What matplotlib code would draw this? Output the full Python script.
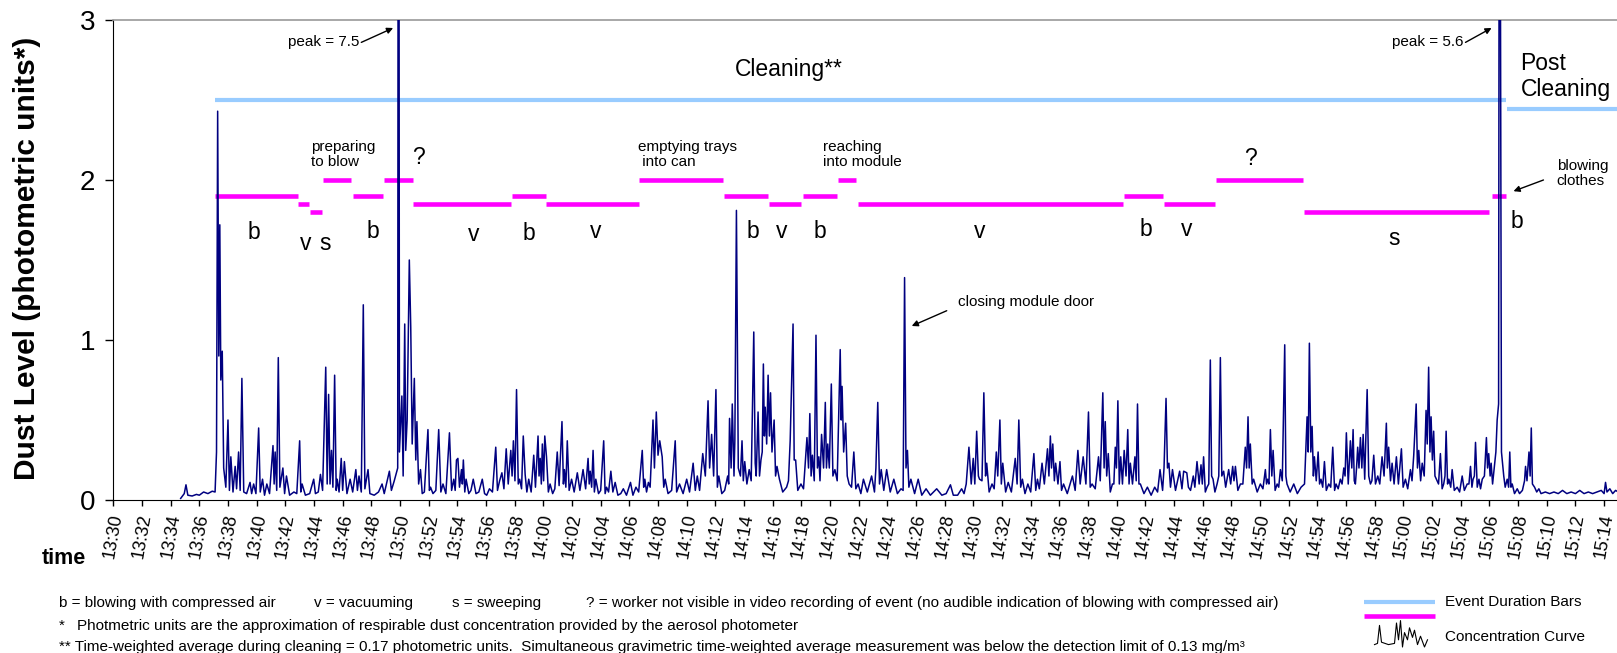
import matplotlib
matplotlib.use("Agg")
import matplotlib.pyplot as plt
import numpy as np

plt.rcParams['font.family'] = ['Liberation Sans', 'DejaVu Sans']

# dust concentration trace, (minutes after 13:30, photometric units)
curve_trace = [
    (4.70, 0.01), (4.95, 0.04), (5.07, 0.095), (5.2, 0.03), (5.5, 0.025), (5.8, 0.035),
    (6.0, 0.03), (6.3, 0.05), (6.6, 0.04), (6.9, 0.055), (7.1, 0.05), (7.2, 0.3),
    (7.28, 2.43), (7.36, 0.9), (7.43, 1.72), (7.5, 0.75), (7.6, 0.93), (7.7, 0.2),
    (7.85, 0.08), (8.0, 0.5), (8.1, 0.06), (8.2, 0.27), (8.35, 0.05), (8.5, 0.21),
    (8.6, 0.07), (8.74, 0.3), (8.85, 0.06), (8.97, 0.76), (9.1, 0.05), (9.3, 0.04),
    (9.54, 0.11), (9.65, 0.04), (9.79, 0.1), (9.95, 0.04), (10.14, 0.45), (10.25, 0.05),
    (10.41, 0.13), (10.55, 0.03), (10.71, 0.1), (10.9, 0.04), (11.14, 0.34), (11.22, 0.1),
    (11.29, 0.3), (11.4, 0.06), (11.51, 0.89), (11.62, 0.08), (11.83, 0.2), (11.95, 0.04),
    (12.08, 0.15), (12.3, 0.03), (12.6, 0.05), (12.8, 0.04), (13.0, 0.37), (13.08, 0.05),
    (13.17, 0.1), (13.4, 0.03), (13.7, 0.04), (13.98, 0.13), (14.1, 0.04), (14.3, 0.05),
    (14.45, 0.16), (14.6, 0.06), (14.82, 0.83), (14.92, 0.1), (15.02, 0.66), (15.12, 0.1),
    (15.22, 0.31), (15.32, 0.08), (15.44, 0.78), (15.55, 0.06), (15.62, 0.13), (15.75, 0.05),
    (15.9, 0.26), (16.0, 0.06), (16.12, 0.24), (16.3, 0.04), (16.52, 0.13), (16.7, 0.05),
    (16.92, 0.19), (17.03, 0.06), (17.14, 0.15), (17.3, 0.05), (17.44, 1.22), (17.55, 0.07),
    (17.77, 0.19), (17.9, 0.04), (18.2, 0.03), (18.5, 0.05), (18.75, 0.1), (18.9, 0.04),
    (19.26, 0.18), (19.4, 0.06), (19.6, 0.12), (19.84, 0.2), (19.9, 7.5),
    (19.96, 0.3), (20.13, 0.65), (20.22, 0.15), (20.33, 1.1), (20.4, 0.31), (20.5, 0.5),
    (20.65, 1.5), (20.75, 1.08), (20.85, 0.35), (21.0, 0.76), (21.1, 0.25), (21.18, 0.49),
    (21.3, 0.1), (21.43, 0.19), (21.55, 0.04), (21.7, 0.05), (21.95, 0.44), (22.05, 0.06),
    (22.13, 0.08), (22.3, 0.04), (22.5, 0.06), (22.7, 0.44), (22.85, 0.05), (23.0, 0.1),
    (23.2, 0.04), (23.45, 0.42), (23.6, 0.06), (23.75, 0.13), (23.85, 0.06), (23.94, 0.25),
    (24.04, 0.26), (24.15, 0.08), (24.29, 0.19), (24.35, 0.1), (24.42, 0.25), (24.52, 0.05),
    (24.61, 0.13), (24.8, 0.04), (24.95, 0.06), (25.11, 0.13), (25.3, 0.04), (25.5, 0.05),
    (25.74, 0.13), (25.9, 0.04), (26.05, 0.03), (26.24, 0.07), (26.45, 0.05), (26.68, 0.33),
    (26.8, 0.06), (26.95, 0.12), (27.11, 0.17), (27.25, 0.07), (27.41, 0.32), (27.55, 0.1),
    (27.73, 0.31), (27.82, 0.15), (27.91, 0.37), (28.02, 0.12), (28.13, 0.69), (28.25, 0.1),
    (28.35, 0.13), (28.48, 0.07), (28.6, 0.4), (28.73, 0.16), (28.85, 0.05), (28.98, 0.13),
    (29.15, 0.05), (29.33, 0.28), (29.45, 0.08), (29.63, 0.4), (29.7, 0.15), (29.78, 0.26),
    (29.86, 0.1), (29.93, 0.35), (30.02, 0.12), (30.1, 0.4), (30.22, 0.27), (30.35, 0.05),
    (30.47, 0.1), (30.65, 0.04), (30.8, 0.07), (30.97, 0.3), (31.1, 0.09), (31.3, 0.49),
    (31.4, 0.1), (31.47, 0.19), (31.57, 0.08), (31.67, 0.37), (31.8, 0.06), (31.97, 0.13),
    (32.15, 0.05), (32.37, 0.17), (32.55, 0.06), (32.77, 0.19), (32.95, 0.07), (33.12, 0.26),
    (33.2, 0.1), (33.27, 0.18), (33.37, 0.08), (33.47, 0.31), (33.56, 0.05), (33.66, 0.13),
    (33.85, 0.04), (34.0, 0.06), (34.21, 0.37), (34.31, 0.04), (34.41, 0.08), (34.55, 0.05),
    (34.71, 0.18), (34.85, 0.05), (35.01, 0.11), (35.2, 0.03), (35.4, 0.04), (35.58, 0.07),
    (35.8, 0.03), (36.08, 0.11), (36.25, 0.03), (36.46, 0.08), (36.65, 0.05), (36.9, 0.31),
    (37.0, 0.08), (37.08, 0.13), (37.2, 0.05), (37.33, 0.11), (37.45, 0.08), (37.65, 0.5),
    (37.75, 0.2), (37.88, 0.55), (38.0, 0.28), (38.12, 0.37), (38.29, 0.27), (38.4, 0.08),
    (38.5, 0.13), (38.7, 0.04), (38.95, 0.06), (39.2, 0.37), (39.3, 0.05), (39.5, 0.1),
    (39.75, 0.04), (40.0, 0.13), (40.2, 0.05), (40.45, 0.23), (40.6, 0.06), (40.74, 0.15),
    (40.9, 0.06), (41.12, 0.29), (41.3, 0.15), (41.49, 0.62), (41.6, 0.2), (41.74, 0.41),
    (41.88, 0.15), (42.04, 0.69), (42.14, 0.08), (42.24, 0.15), (42.45, 0.04), (42.65, 0.06),
    (42.86, 0.15), (42.93, 0.1), (42.99, 0.51), (43.1, 0.2), (43.18, 0.6), (43.3, 0.15),
    (43.36, 0.37), (43.47, 1.81), (43.6, 0.2), (43.75, 0.15), (43.86, 0.37), (43.95, 0.12),
    (44.05, 0.24), (44.2, 0.1), (44.36, 0.19), (44.5, 0.12), (44.68, 1.05), (44.78, 0.23),
    (44.85, 0.15), (44.98, 0.55), (45.08, 0.15), (45.18, 0.25), (45.27, 0.3), (45.35, 0.85),
    (45.42, 0.4), (45.48, 0.58), (45.58, 0.35), (45.68, 0.78), (45.77, 0.4), (45.85, 0.67),
    (45.95, 0.3), (46.1, 0.5), (46.2, 0.15), (46.3, 0.21), (46.47, 0.13), (46.7, 0.05),
    (46.97, 0.08), (47.1, 0.12), (47.22, 0.37), (47.42, 1.1), (47.5, 0.25), (47.6, 0.25),
    (47.75, 0.06), (47.97, 0.1), (48.15, 0.07), (48.39, 0.39), (48.5, 0.2), (48.59, 0.54),
    (48.68, 0.15), (48.77, 0.28), (48.9, 0.12), (49.02, 1.03), (49.12, 0.2), (49.22, 0.27),
    (49.3, 0.12), (49.41, 0.41), (49.55, 0.2), (49.67, 0.61), (49.75, 0.2), (49.84, 0.35),
    (49.95, 0.2), (50.09, 0.725), (50.2, 0.15), (50.34, 0.19), (50.5, 0.12), (50.71, 0.94),
    (50.78, 0.5), (50.84, 0.71), (50.95, 0.3), (51.09, 0.48), (51.2, 0.15), (51.33, 0.1),
    (51.5, 0.08), (51.66, 0.3), (51.8, 0.07), (51.96, 0.1), (52.15, 0.04), (52.33, 0.13),
    (52.6, 0.05), (52.9, 0.15), (53.1, 0.05), (53.2, 0.2), (53.33, 0.61), (53.45, 0.1),
    (53.57, 0.19), (53.75, 0.06), (53.95, 0.19), (54.2, 0.05), (54.45, 0.13), (54.7, 0.04),
    (54.95, 0.07), (55.1, 0.06), (55.2, 1.39), (55.3, 0.2), (55.4, 0.31), (55.5, 0.08),
    (55.64, 0.13), (55.9, 0.04), (56.15, 0.13), (56.4, 0.03), (56.7, 0.07), (57.0, 0.03),
    (57.44, 0.07), (57.8, 0.03), (58.1, 0.04), (58.4, 0.095), (58.6, 0.03), (58.9, 0.03),
    (59.18, 0.07), (59.35, 0.04), (59.5, 0.1), (59.69, 0.33), (59.85, 0.1), (59.99, 0.26),
    (60.1, 0.1), (60.23, 0.43), (60.35, 0.15), (60.43, 0.13), (60.6, 0.12), (60.73, 0.67),
    (60.85, 0.15), (60.93, 0.23), (61.1, 0.05), (61.3, 0.1), (61.45, 0.07), (61.6, 0.3),
    (61.7, 0.15), (61.85, 0.5), (61.95, 0.1), (62.05, 0.23), (62.25, 0.05), (62.43, 0.11),
    (62.65, 0.05), (62.92, 0.26), (63.05, 0.1), (63.17, 0.5), (63.3, 0.08), (63.42, 0.13),
    (63.6, 0.04), (63.8, 0.1), (64.0, 0.05), (64.22, 0.29), (64.35, 0.06), (64.47, 0.13),
    (64.6, 0.07), (64.79, 0.23), (64.95, 0.1), (65.17, 0.32), (65.27, 0.15), (65.37, 0.4),
    (65.45, 0.2), (65.54, 0.35), (65.65, 0.12), (65.74, 0.23), (65.9, 0.1), (66.04, 0.24),
    (66.15, 0.06), (66.29, 0.1), (66.55, 0.04), (66.91, 0.15), (67.1, 0.06), (67.29, 0.31),
    (67.45, 0.1), (67.66, 0.27), (67.85, 0.1), (68.03, 0.55), (68.15, 0.08), (68.28, 0.1),
    (68.5, 0.07), (68.73, 0.27), (68.85, 0.12), (69.03, 0.67), (69.12, 0.2), (69.2, 0.49),
    (69.3, 0.15), (69.41, 0.29), (69.55, 0.05), (69.7, 0.1), (69.8, 0.1), (69.9, 0.33),
    (69.98, 0.2), (70.08, 0.62), (70.18, 0.1), (70.28, 0.27), (70.4, 0.1), (70.52, 0.31),
    (70.65, 0.15), (70.77, 0.44), (70.86, 0.1), (70.95, 0.23), (71.1, 0.1), (71.27, 0.27),
    (71.36, 0.12), (71.45, 0.6), (71.55, 0.1), (71.65, 0.1), (71.9, 0.04), (72.14, 0.08),
    (72.4, 0.03), (72.65, 0.08), (72.85, 0.05), (73.02, 0.19), (73.2, 0.06), (73.3, 0.2),
    (73.44, 0.635), (73.54, 0.2), (73.64, 0.23), (73.75, 0.08), (73.89, 0.19), (74.1, 0.06),
    (74.39, 0.18), (74.55, 0.07), (74.67, 0.18), (74.89, 0.17), (75.0, 0.08), (75.15, 0.06),
    (75.34, 0.15), (75.45, 0.08), (75.6, 0.24), (75.75, 0.1), (75.88, 0.22), (75.97, 0.1),
    (76.06, 0.27), (76.18, 0.05), (76.3, 0.08), (76.42, 0.1), (76.53, 0.875), (76.62, 0.15),
    (76.72, 0.13), (76.85, 0.05), (77.0, 0.1), (77.12, 0.15), (77.23, 0.89), (77.33, 0.15),
    (77.46, 0.18), (77.6, 0.08), (77.81, 0.19), (77.95, 0.1), (78.09, 0.21), (78.18, 0.12),
    (78.28, 0.21), (78.45, 0.06), (78.63, 0.1), (78.8, 0.1), (78.97, 0.33), (79.06, 0.2),
    (79.16, 0.52), (79.24, 0.2), (79.32, 0.35), (79.45, 0.1), (79.55, 0.13), (79.8, 0.05),
    (80.02, 0.1), (80.2, 0.07), (80.37, 0.19), (80.45, 0.1), (80.53, 0.13), (80.62, 0.1),
    (80.72, 0.44), (80.82, 0.15), (80.91, 0.31), (81.05, 0.06), (81.19, 0.1), (81.3, 0.08),
    (81.42, 0.19), (81.55, 0.12), (81.72, 0.97), (81.8, 0.15), (81.88, 0.1), (82.1, 0.05),
    (82.35, 0.1), (82.6, 0.04), (82.86, 0.08), (83.1, 0.1), (83.28, 0.52), (83.36, 0.3),
    (83.44, 0.98), (83.54, 0.3), (83.63, 0.46), (83.72, 0.15), (83.79, 0.27), (83.92, 0.12),
    (84.05, 0.3), (84.15, 0.1), (84.25, 0.13), (84.37, 0.08), (84.49, 0.24), (84.62, 0.06),
    (84.79, 0.1), (84.93, 0.08), (85.07, 0.33), (85.2, 0.06), (85.3, 0.1), (85.45, 0.07),
    (85.6, 0.13), (85.72, 0.1), (85.84, 0.2), (85.93, 0.15), (86.02, 0.42), (86.15, 0.1),
    (86.3, 0.37), (86.4, 0.2), (86.49, 0.44), (86.57, 0.12), (86.65, 0.1), (86.73, 0.2),
    (86.81, 0.33), (86.9, 0.2), (87.0, 0.39), (87.1, 0.2), (87.19, 0.41), (87.3, 0.13),
    (87.47, 0.69), (87.58, 0.15), (87.7, 0.1), (87.8, 0.12), (87.93, 0.28), (88.05, 0.1),
    (88.21, 0.15), (88.35, 0.1), (88.51, 0.27), (88.65, 0.15), (88.81, 0.48), (88.88, 0.2),
    (88.97, 0.33), (89.1, 0.12), (89.21, 0.23), (89.35, 0.1), (89.51, 0.27), (89.65, 0.1),
    (89.86, 0.32), (89.98, 0.08), (90.14, 0.13), (90.3, 0.07), (90.49, 0.19), (90.6, 0.12),
    (90.72, 0.28), (90.89, 0.6), (90.98, 0.2), (91.07, 0.31), (91.2, 0.12), (91.31, 0.23),
    (91.45, 0.15), (91.58, 0.56), (91.66, 0.35), (91.76, 0.83), (91.85, 0.3), (91.93, 0.52),
    (92.02, 0.25), (92.11, 0.43), (92.2, 0.15), (92.3, 0.13), (92.45, 0.1), (92.58, 0.29),
    (92.7, 0.07), (92.81, 0.1), (92.9, 0.15), (92.98, 0.43), (93.08, 0.1), (93.17, 0.13),
    (93.3, 0.08), (93.4, 0.19), (93.55, 0.06), (93.75, 0.08), (93.92, 0.05), (94.1, 0.15),
    (94.25, 0.06), (94.45, 0.1), (94.57, 0.1), (94.68, 0.21), (94.78, 0.08), (94.86, 0.13),
    (94.95, 0.15), (95.03, 0.36), (95.15, 0.08), (95.27, 0.13), (95.38, 0.07), (95.5, 0.13),
    (95.65, 0.15), (95.79, 0.39), (95.87, 0.2), (95.95, 0.29), (96.05, 0.15), (96.12, 0.23),
    (96.22, 0.1), (96.3, 0.17), (96.45, 0.3), (96.54, 0.5), (96.64, 0.6), (96.7, 5.6),
    (96.75, 4.0), (96.84, 0.3), (97.0, 0.15), (97.1, 0.08), (97.24, 0.13), (97.34, 0.08),
    (97.42, 0.3), (97.5, 0.08), (97.59, 0.1), (97.75, 0.04), (97.94, 0.07), (98.1, 0.04),
    (98.3, 0.06), (98.45, 0.12), (98.52, 0.21), (98.62, 0.12), (98.76, 0.3), (98.84, 0.15),
    (98.92, 0.45), (99.0, 0.1), (99.15, 0.08), (99.3, 0.05), (99.45, 0.07), (99.6, 0.04),
    (99.9, 0.05), (100.2, 0.04), (100.5, 0.05), (100.8, 0.04), (101.1, 0.06), (101.4, 0.04),
    (101.7, 0.05), (102.0, 0.04), (102.3, 0.06), (102.6, 0.04), (102.9, 0.05), (103.2, 0.04),
    (103.5, 0.05), (103.8, 0.06), (104.0, 0.04), (104.1, 0.11), (104.2, 0.05), (104.4, 0.07),
    (104.6, 0.04), (104.8, 0.06), (105.0, 0.05),
]

# event duration bars (minutes after 13:30)
phase_start = [7.06, 97.26]
phase_end = [97.17, 105.0]
phase_level = [2.5, 2.445]

task_start = [7.06, 12.9, 13.7, 14.6, 16.69, 18.88, 20.93, 27.78, 30.22, 36.68, 42.6, 45.75,
              48.1, 50.58, 51.93, 70.52, 73.27, 76.9, 83.04, 96.2]
task_end = [12.85, 13.65, 14.57, 16.59, 18.81, 20.88, 27.73, 30.17, 36.67, 42.53, 45.68, 47.99,
            50.51, 51.83, 70.45, 73.2, 76.85, 82.99, 95.97, 97.17]
task_level = [1.9, 1.85, 1.8, 2.0, 1.9, 2.0, 1.85, 1.9, 1.85, 2.0, 1.9, 1.85,
              1.9, 2.0, 1.85, 1.9, 1.85, 2.0, 1.8, 1.9]

# activity letters under the bars
letter_text = ['b', 'v', 's', 'b', 'v', 'b', 'v', 'b', 'v', 'b', 'v', 'b', 'v', 's', 'b']
letter_x = [9.79, 13.45, 14.77, 18.12, 25.17, 28.98, 33.68, 44.64, 46.65, 49.27, 60.43,
            72.05, 74.91, 89.37, 97.93]
letter_y = [1.63, 1.565, 1.565, 1.64, 1.62, 1.625, 1.64, 1.64, 1.64, 1.64, 1.64,
            1.65, 1.65, 1.595, 1.70]

# legend squiggle (relative shape)
icon_x = [0, 3, 5, 7, 14, 20, 22, 24, 26, 28, 30, 33, 35, 38, 40, 43, 46, 50, 53]
icon_y = [0.1, 0.15, 0.9, 0.2, 0.1, 0.15, 1.0, 0.3, 1.1, 0.0, 0.6, 0.3, 0.8, 0.4, 0.7, 0.1, 0.45, 0.0, 0.3]

tick_minutes = list(range(0, 106, 2))
tick_labels = ["%d:%02d" % (13 + (30 + m) // 60, (30 + m) % 60) for m in tick_minutes]

fig = plt.figure(figsize=(16.17, 6.53), dpi=100)
ax = fig.add_axes([0.07007, 0.2343, 0.92993, 0.7351])

t = [p[0] for p in curve_trace]
v = [p[1] for p in curve_trace]
ax.plot(t, v, color='#000080', lw=1.1, zorder=3)

ax.hlines(phase_level, phase_start, phase_end, colors='#99CCFF', lw=3.0, zorder=2)
ax.hlines(task_level, task_start, task_end, colors='#FF00FF', lw=3.3, zorder=2)

for s, x, y in zip(letter_text, letter_x, letter_y):
    ax.text(x, y, s, fontsize=16.5, ha='center', va='baseline')

ax.text(47.15, 2.69, 'Cleaning**', fontsize=16.5, ha='center', va='center')
ax.text(98.16, 2.647, 'Post\nCleaning', fontsize=16.5, ha='left', va='center')
ax.text(21.3, 2.1, '?', fontsize=16.5, ha='center', va='baseline')
ax.text(79.32, 2.095, '?', fontsize=16.5, ha='center', va='baseline')
ax.text(13.8, 2.16, 'preparing\nto blow', fontsize=11, ha='left', va='center', linespacing=1.1)
ax.text(36.62, 2.16, 'emptying trays\n into can', fontsize=11, ha='left', va='center', linespacing=1.1)
ax.text(49.52, 2.16, 'reaching\ninto module', fontsize=11, ha='left', va='center', linespacing=1.1)
ax.text(100.7, 2.04, 'blowing\nclothes', fontsize=11, ha='left', va='center', linespacing=1.1)
ax.text(17.16, 2.86, 'peak = 7.5', fontsize=11, ha='right', va='center')
ax.text(94.2, 2.86, 'peak = 5.6', fontsize=11, ha='right', va='center')
ax.text(58.93, 1.2375, 'closing module door', fontsize=11, ha='left', va='center')

arrow_kw = dict(arrowstyle='-|>', color='black', lw=1.0, mutation_scale=9, shrinkA=0, shrinkB=0)
ax.annotate('', xy=(19.52, 2.95), xytext=(17.3, 2.86), arrowprops=arrow_kw)
ax.annotate('', xy=(96.15, 2.95), xytext=(94.33, 2.86), arrowprops=arrow_kw)
ax.annotate('', xy=(97.68, 1.93), xytext=(99.77, 2.0), arrowprops=arrow_kw)
ax.annotate('', xy=(55.7, 1.0875), xytext=(58.14, 1.183), arrowprops=arrow_kw)

ax.set_xlim(0, 104.9)
ax.set_ylim(0, 3)
ax.set_yticks([0, 1, 2, 3])
ax.set_yticklabels(['0', '1', '2', '3'], fontsize=20)
ax.set_xticks(tick_minutes)
ax.set_xticklabels(tick_labels, fontsize=13, rotation=80)
ax.tick_params(axis='y', length=6, width=1, pad=7)
ax.tick_params(axis='x', length=4, width=1, pad=5)
ax.spines['right'].set_visible(False)
ax.spines['top'].set_color('#999999')
ax.spines['top'].set_linewidth(1.2)

fig.text(27 / 1617, 1 - 258 / 653, 'Dust Level (photometric units*)', rotation=90,
         fontsize=21.5, fontweight='bold', ha='center', va='center')
fig.text(0.0395, 1 - 558 / 653, 'time', fontsize=15.5, fontweight='bold', ha='center', va='center')

# footnotes
fy1, fy2, fy3 = 1 - 603 / 653, 1 - 626 / 653, 1 - 647 / 653
fig.text(0.0365, fy1, 'b = blowing with compressed air', fontsize=11, va='center')
fig.text(0.1942, fy1, 'v = vacuuming', fontsize=11, va='center')
fig.text(0.2794, fy1, 's = sweeping', fontsize=11, va='center')
fig.text(0.3626, fy1, '? = worker not visible in video recording of event '
         '(no audible indication of blowing with compressed air)', fontsize=11, va='center')
fig.text(0.0365, fy2, '*', fontsize=11, va='center')
fig.text(0.0475, fy2, 'Photmetric units are the approximation of respirable dust concentration '
         'provided by the aerosol photometer', fontsize=11, va='center')
fig.text(0.0365, fy3, '** Time-weighted average during cleaning = 0.17 photometric units.  '
         'Simultaneous gravimetric time-weighted average measurement was below the detection '
         'limit of 0.13 mg/m\u00b3', fontsize=11, va='center')

# legend drawn by hand
lax = fig.add_axes([1356 / 1617, 1 - 652 / 653, 261 / 1617, 60 / 653])
lax.set_xlim(1356, 1617)
lax.set_ylim(652, 592)
lax.axis('off')
lax.plot([1363.6, 1434.5], [601.7, 601.7], color='#99CCFF', lw=3.0, solid_capstyle='butt')
lax.plot([1363.6, 1434.5], [616, 616], color='#FF00FF', lw=3.3, solid_capstyle='butt')
ix = 1374.5 + np.array(icon_x)
iy = 647 - 24 * np.array(icon_y)
lax.plot(ix, iy, color='black', lw=0.8)
lax.text(1444.7, 601.7, 'Event Duration Bars', fontsize=11, va='center')
lax.text(1444.7, 636.7, 'Concentration Curve', fontsize=11, va='center')

fig.savefig('out.png', dpi=100)
